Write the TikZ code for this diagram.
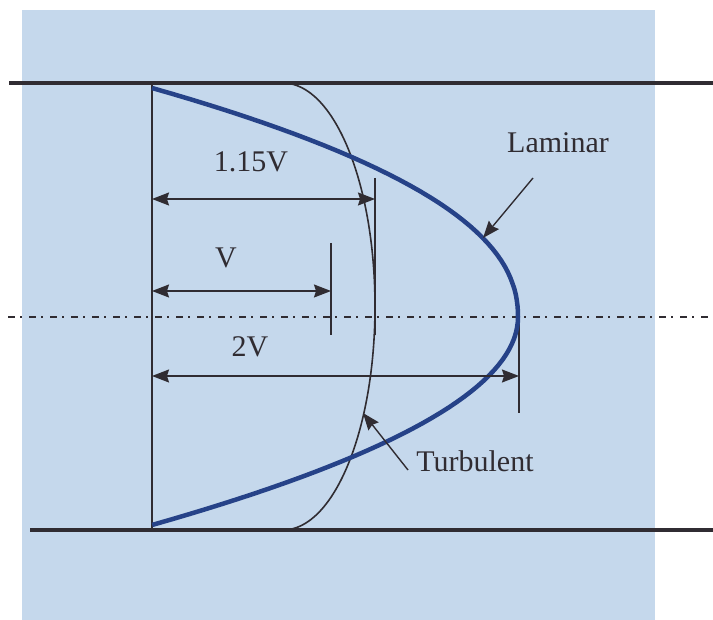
\documentclass[tikz,border=0pt]{standalone}
\usepackage{fontspec}
\setmainfont{Liberation Serif}
\usetikzlibrary{arrows.meta}
\definecolor{bgblue}{RGB}{197,216,236}
\definecolor{ink}{RGB}{48,44,50}
\definecolor{lamblue}{RGB}{38,66,136}

\begin{document}
\begin{tikzpicture}[
    x=1pt, y=-1pt,
    wall/.style={ink, line width=4.5pt},
    thinline/.style={ink, line width=1.4pt},
    dim/.style={thinline, {Stealth[length=17pt, width=13pt, inset=2pt]}-{Stealth[length=17pt, width=13pt, inset=2pt]}},
    pointer/.style={thinline, -{Stealth[length=17pt, width=13pt, inset=2pt]}},
    axisline/.style={ink, line width=1.8pt, dash pattern=on 7pt off 5pt on 2pt off 7pt},
    laminar/.style={lamblue, line width=4.5pt, line join=round},
    profiletext/.style={font=\fontsize{30}{36}\selectfont, text=ink, inner sep=0pt, anchor=base}
]
    \useasboundingbox (0,0) rectangle (713,620);
    \fill[bgblue] (22,10) rectangle (655,620);

    % pipe walls and axis
    \draw[wall] (9,83) -- (713,83);
    \draw[wall] (30,530) -- (713,530);
    \draw[axisline] (8,317) -- (713,317);

    % reference line and ticks
    \coordinate (top) at (152,83);
    \coordinate (bot) at (152,530);
    \draw[thinline] (top) -- (bot);
    \coordinate (tickA) at (375,178);  \coordinate (tickAend) at (375,335);
    \coordinate (tickB) at (331,243);  \coordinate (tickBend) at (331,335);
    \coordinate (tickC) at (519,317);  \coordinate (tickCend) at (519,413);
    \draw[thinline] (tickA) -- (tickAend);
    \draw[thinline] (tickB) -- (tickBend);
    \draw[thinline] (tickC) -- (tickCend);

    % profiles
    \draw[ink, line width=1.6pt] (283,83) arc[start angle=-90, end angle=90, x radius=92, y radius=223.5];
    \draw[laminar] plot[domain=1:0.02, samples=40] ({152+366*(1-(\x)^2.2)}, {317-229*\x})
        -- plot[domain=0:1, samples=40] ({152+366*(1-\x*\x)}, {317+208*\x});

    % dimension arrows
    \coordinate (dimAl) at (152,199);  \coordinate (dimAr) at (375,199);
    \coordinate (dimBl) at (152,291);  \coordinate (dimBr) at (331,291);
    \coordinate (dimCl) at (152,376);  \coordinate (dimCr) at (519,376);
    \draw[dim] (dimAl) -- (dimAr);
    \draw[dim] (dimBl) -- (dimBr);
    \draw[dim] (dimCl) -- (dimCr);
    \node[profiletext] (vmid) at (251,172) {1.15V};
    \node[profiletext] (vmean) at (226,268) {V};
    \node[profiletext] (vmax) at (250,357) {2V};

    % labels
    \node[profiletext] (lam) at (558,153) {Laminar};
    \node[profiletext] (turb) at (475,472) {Turbulent};
    \coordinate (lamtail) at (533,178);
    \coordinate (lamtip) at (483,238);
    \coordinate (turbtail) at (408,470);
    \coordinate (turbtip) at (363,413);
    \draw[pointer] (lamtail) -- (lamtip);
    \draw[pointer] (turbtail) -- (turbtip);
\end{tikzpicture}
\end{document}
